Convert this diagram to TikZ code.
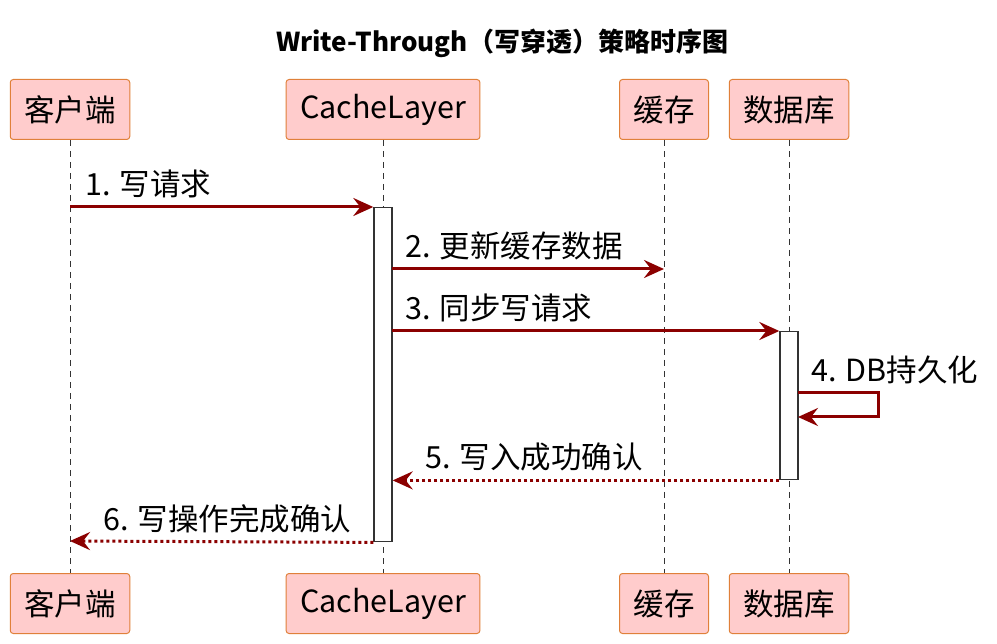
\documentclass[tikz,border=0pt]{standalone}
\usepackage{fontspec}
\setmainfont{Noto Sans CJK SC}
\usetikzlibrary{arrows.meta}
\definecolor{boxfill}{HTML}{FFCCCC}
\definecolor{boxline}{HTML}{E0803A}
\definecolor{msgred}{HTML}{8B0000}

\begin{document}
\begin{tikzpicture}[x=1pt,y=-1pt,
                    semithick,font=\fontsize{30.5}{33}\selectfont]
  \tikzset{
    partbox/.style={draw=boxline,fill=boxfill,line width=1pt,rounded corners=3pt,
                    minimum height=60pt,inner xsep=14pt,anchor=north},
    lifeline/.style={draw=black!80,line width=0.8pt,dash pattern=on 6pt off 5pt},
    actbar/.style={draw=black!80,fill=white,line width=1.4pt,minimum width=18pt,
                   inner sep=0pt,anchor=north},
    msg/.style={draw=msgred,line width=3pt,
                -{Stealth[length=20pt,width=18pt,inset=7pt]}},
    reply/.style={msg,dash pattern=on 3pt off 3pt},
    msglabel/.style={anchor=base west,inner sep=0pt}
  }
  \useasboundingbox (0,0) rectangle (997,644);

  \node[font=\fontsize{26}{29}\selectfont\bfseries] (title) at (502,43)
        {Write-Through（写穿透）策略时序图};

  % participants
  \node[partbox] (client)  at (70,79)  {客户端};
  \node[partbox] (cache)   at (383,79) {CacheLayer};
  \node[partbox] (store)   at (664,79) {缓存};
  \node[partbox] (db)      at (789,79) {数据库};
  \node[partbox] (clientB) at (70,573)  {客户端};
  \node[partbox] (cacheB)  at (383,573) {CacheLayer};
  \node[partbox] (storeB)  at (664,573) {缓存};
  \node[partbox] (dbB)     at (789,573) {数据库};

  \foreach \p in {client,cache,store,db}
    \draw[lifeline] (\p.south) -- (\p B.north);

  % activations
  \node[actbar,minimum height=334pt] (actC) at (383,207) {};
  \node[actbar,minimum height=148pt] (actD) at (789,331) {};

  \coordinate (m1s) at (70,207);
  \coordinate (m2s) at (392,269);
  \coordinate (m2e) at (664,269);
  \coordinate (m3s) at (392,331);
  \coordinate (m4a) at (878,393);
  \coordinate (m4b) at (878,417);
  \coordinate (m4s) at (798,393);
  \coordinate (m4e) at (798,417);
  \coordinate (m6e) at (70,541);

  \draw[msg] (m1s) -- (actC.north west);
  \node[msglabel] (l1) at (85,196) {1. 写请求};
  \draw[msg] (m2s) -- (m2e);
  \node[msglabel] (l2) at (405,258) {2. 更新缓存数据};
  \draw[msg] (m3s) -- (actD.north west);
  \node[msglabel] (l3) at (405,320) {3. 同步写请求};
  \draw[msg] (m4s) -- (m4a) -- (m4b) -- (m4e);
  \node[msglabel] (l4) at (811,382) {4. DB持久化};
  \draw[reply] (actD.south west) -- (actC.east |- actD.south);
  \node[msglabel] (l5) at (425,468) {5. 写入成功确认};
  \draw[reply] (actC.south west) -- (m6e);
  \node[msglabel] (l6) at (103,530) {6. 写操作完成确认};
\end{tikzpicture}
\end{document}
